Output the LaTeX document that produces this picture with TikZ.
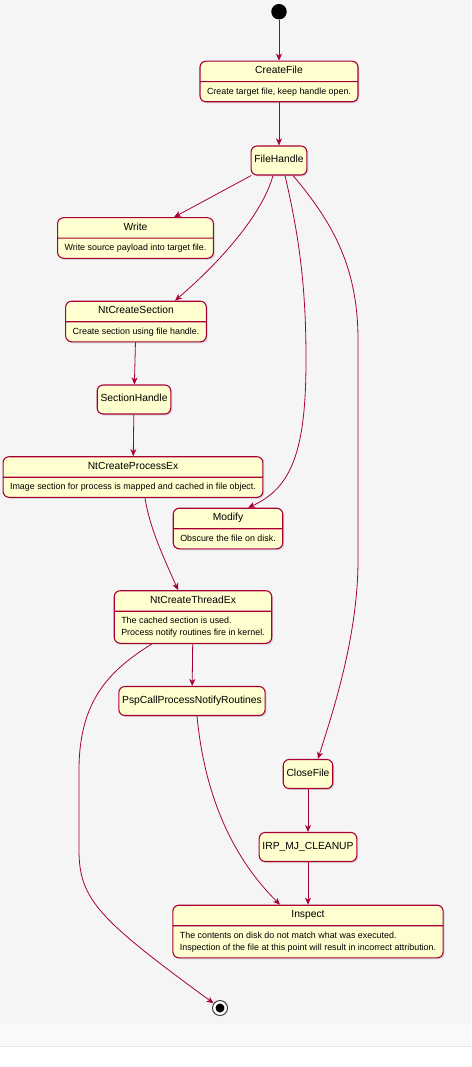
\documentclass[tikz,border=0pt]{standalone}
\usepackage{fontspec}
\setmainfont{Liberation Sans}
\usetikzlibrary{arrows.meta,shapes.multipart,shadows}

\definecolor{umlred}{HTML}{A80036}
\definecolor{umlfill}{HTML}{FEFECE}
\definecolor{chk}{HTML}{F5F5F5}
\definecolor{band}{HTML}{F8F9FB}
\definecolor{bandline}{HTML}{E3E5E8}

\newcommand{\titlefont}{\fontsize{10.3}{12.4}\selectfont}
\newcommand{\descfont}{\fontsize{8.9}{12}\selectfont}

\begin{document}
\begin{tikzpicture}[x=1pt, y=-1pt,
    >={Stealth[length=7pt,width=6pt,inset=2pt]},
    look/.style={draw=umlred, fill=umlfill, line width=1.1pt, rounded corners=6pt,
      drop shadow={shadow xshift=1.5pt, shadow yshift=-1.5pt, opacity=0.25}},
    state/.style={look, rectangle split, rectangle split parts=2,
      rectangle split part align={center,left}, align=left,
      inner xsep=7pt, inner ysep=3.5pt, font=\titlefont,
      every two node part/.style={font=\descfont}},
    simple/.style={look, rectangle, inner xsep=3.3pt, minimum height=29pt, font=\titlefont},
    initial/.style={circle, fill=black, minimum size=15.5pt, inner sep=0pt},
    final/.style={circle, draw=black!75, fill=white, line width=1pt, minimum size=15pt, inner sep=0pt,
      path picture={\fill[black] (path picture bounding box.center) circle (4.5pt);}},
    trans/.style={->, draw=umlred, line width=0.8pt}]

  % backdrop
  \useasboundingbox (0,0) rectangle (471,1067);
  \fill[chk] (0,0) rectangle (471,1024);
  \fill[band] (0,1024) rectangle (471,1046);
  \draw[bandline, line width=0.8pt] (0,1046) -- (471,1046);

  % states
  \node[initial] (start) at (279,11.7) {};
  \node[state] (cf)    at (279,81.5)  {\strut CreateFile\nodepart{two}\strut Create target file, keep handle open.};
  \node[simple] (fh)   at (279,160.5) {\strut FileHandle};
  \node[state] (write) at (135.5,238) {\strut Write\nodepart{two}\strut Write source payload into target file.};
  \node[state] (ncs)   at (136,321.5) {\strut NtCreateSection\nodepart{two}\strut Create section using file handle.};
  \node[simple] (sh)   at (134,399.5) {\strut SectionHandle};
  \node[state] (npe)   at (133,477)   {\strut NtCreateProcessEx\nodepart{two}\strut Image section for process is mapped and cached in file object.};
  \node[state] (mod)   at (228,528.5) {\strut Modify\nodepart{two}\strut Obscure the file on disk.};
  \node[state] (nte)   at (193,617)   {\strut NtCreateThreadEx\nodepart{two}\strut The cached section is used.\\Process notify routines fire in kernel.\strut};
  \node[simple] (psp)  at (192,701)   {\strut PspCallProcessNotifyRoutines};
  \node[simple] (cl)   at (308,774)   {\strut CloseFile};
  \node[simple] (irp)  at (308,847)   {\strut IRP\_MJ\_CLEANUP};
  \node[state] (ins)   at (308,931.5) {\strut Inspect\nodepart{two}\strut The contents on disk do not match what was executed.\\Inspection of the file at this point will result in incorrect attribution.\strut};
  \node[final] (endst) at (220,1008)  {};

  % transitions
  \draw[trans] (start) -- (cf);
  \draw[trans] (cf) -- (fh);
  \draw[trans] (fh) -- (write);
  \draw[trans] ([xshift=-6pt]fh.south) .. controls (262,215) and (220,262) .. ([xshift=39pt]ncs.north);
  \draw[trans] ([xshift=6pt]fh.south) .. controls (300,240) and (306,290) .. (306,360)
    .. controls (306,450) and (292,488) .. ([xshift=20pt]mod.north);
  \draw[trans] ([xshift=14pt]fh.south) .. controls (335,225) and (358,270) .. (358,340) -- (358,560)
    .. controls (358,640) and (330,720) .. ([xshift=10pt]cl.north);
  \draw[trans] (ncs) -- (sh);
  \draw[trans] (sh) -- (npe);
  \draw[trans] ([xshift=12pt]npe.south) .. controls (150,530) and (165,560) .. ([xshift=-15pt]nte.north);
  \draw[trans] (nte) -- (psp);
  \draw[trans] ([xshift=-41pt]nte.south) .. controls (110,670) and (79,700) .. (79,770) -- (79,850)
    .. controls (79,900) and (100,920) .. (endst);
  \draw[trans] ([xshift=5pt]psp.south) .. controls (205,800) and (235,860) .. ([xshift=-28pt]ins.north);
  \draw[trans] (cl) -- (irp);
  \draw[trans] (irp) -- (ins);
\end{tikzpicture}
\end{document}
